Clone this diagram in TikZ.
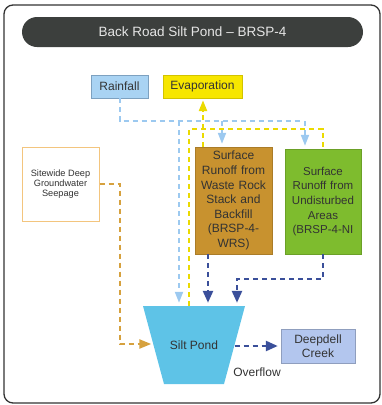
\documentclass[tikz,border=0pt]{standalone}
\usepackage{fontspec}
\setmainfont{Liberation Sans}
\usepackage{tikz}
\usetikzlibrary{arrows.meta,positioning,shapes.geometric}
\definecolor{ctitle}{HTML}{3C3F3D}
\definecolor{crain}{HTML}{A9D3F3}
\definecolor{crainln}{HTML}{9CC9F0}
\definecolor{cevap}{HTML}{F7E600}
\definecolor{crock}{HTML}{C8922F}
\definecolor{cnat}{HTML}{7EBC2E}
\definecolor{cseep}{HTML}{F3C57E}
\definecolor{cseepln}{HTML}{D6A13E}
\definecolor{crun}{HTML}{3A4F9A}
\definecolor{cpond}{HTML}{5EC3E7}
\definecolor{ccreek}{HTML}{B3C6EE}
\definecolor{cgray}{HTML}{333333}

\begin{document}
\begin{tikzpicture}[x=1pt,y=-1pt,
  box/.style={rectangle,draw,align=center,inner sep=1pt,text=cgray,
              font=\fontsize{12}{14.6}\selectfont},
  lbl/.style={font=\fontsize{12}{14}\selectfont,text=cgray},
  pondbox/.style={rectangle,minimum width=102pt,minimum height=78pt,lbl,
    path picture={\fill[cpond] (path picture bounding box.north west)
      -- (path picture bounding box.north east)
      -- ([xshift=-21pt]path picture bounding box.south east)
      -- ([xshift=21pt]path picture bounding box.south west) -- cycle;}},
  ar/.style={dash pattern=on 5pt off 4pt,line width=2.3pt},
  rainar/.style={ar,draw=crainln,line width=2pt,shorten >=3pt,
                 -{Triangle[length=11pt,width=8pt]}},
  evapar/.style={ar,draw=cevap!95!black,line width=2.4pt,shorten >=2pt,
                 -{Triangle[length=11pt,width=8pt]}},
  runar/.style={ar,draw=crun,line width=2.5pt,shorten >=3pt,
                -{Triangle[length=12pt,width=10pt]}},
  seepar/.style={ar,draw=cseepln,shorten >=2pt,
                 -{Triangle[length=12pt,width=9pt]}}]
\useasboundingbox (0,0) rectangle (382,405);
\draw[cgray,line width=1.3pt,rounded corners=9pt] (4,5) rectangle (380,403);
\node[fill=ctitle,rounded corners=15pt,minimum width=341pt,minimum height=30pt,
      text=white!90!black,font=\fontsize{13.5}{16}\selectfont] (title) at (192.5,32)
      {Back Road Silt Pond -- BRSP-4};
\node[box,fill=crain,draw=crainln!80!black,minimum width=57pt,minimum height=23pt] (rain) at (119.5,86.5) {Rainfall};
\node[box,fill=cevap,draw=cevap!85!black,minimum width=79pt,minimum height=23pt] (evap) at (202.5,86.5) {Evaporation};
\node[box,fill=crock,draw=crock!85!black,minimum width=77pt,minimum height=107pt,text width=75pt] (rock) at (233.5,200.5)
  {Surface\\Runoff from\\Waste Rock\\Stack and\\Backfill\\(BRSP-4-\\WRS)};
\node[box,fill=cnat,draw=cnat!85!black,minimum width=76pt,minimum height=105pt,text width=74pt,
      font=\fontsize{11.5}{14.6}\selectfont] (nat) at (323,201.5)
  {Surface\\Runoff from\\Undisturbed\\Areas\\(BRSP-4-NI};
\node[box,fill=white,draw=cseep,line width=1pt,minimum width=77pt,minimum height=74pt,
      font=\fontsize{9.2}{9.8}\selectfont] (seep) at (60.5,184)
  {Sitewide Deep\\Groundwater\\Seepage};
\node[pondbox] (pond) at (194,345) {Silt Pond};
\node[box,fill=ccreek,draw=ccreek!80!black,minimum width=74pt,minimum height=34pt,
      font=\fontsize{12}{14}\selectfont] (creek) at (318,346) {Deepdell\\Creek};
\node[lbl] (ovf) at (257,372) {Overflow};
% pond sides at mid height
\coordinate (pw) at ([xshift=10.5pt]pond.west);
\coordinate (pe) at ([xshift=-10.5pt]pond.east);
% rainfall
\coordinate (r1) at (179,121);
\coordinate (r2) at (222,121);
\coordinate (r3) at (305,121);
\draw[rainar,-] (rain.south) |- (r3);
\draw[rainar] (r1) -- (r1 |- pond.north);
\draw[rainar] (r2) -- (r2 |- rock.north);
\draw[rainar] (r3) -- (r3 |- nat.north);
% evaporation
\coordinate (e1) at (189,129);
\coordinate (e2) at (203,129);
\draw[evapar,-] (e1 |- pond.north) -- (e1) -- (nat.north |- e1) -- (nat.north);
\draw[evapar,-] (e2 |- rock.north) -- (e2);
\draw[evapar] (e2) -- (e2 |- evap.south);
% runoff and overflow
\coordinate (b1) at (208,279);
\coordinate (b2) at (237,279);
\draw[runar] (b1 |- rock.south) -- (b1 |- pond.north);
\draw[runar] (nat.south) |- (b2) -- (b2 |- pond.north);
\draw[runar] (pe |- creek.west) -- (creek.west);
% seepage
\coordinate (s1) at (120,344);
\draw[seepar] (seep.east) -| (s1) -- (s1 -| pw);
\end{tikzpicture}
\end{document}
